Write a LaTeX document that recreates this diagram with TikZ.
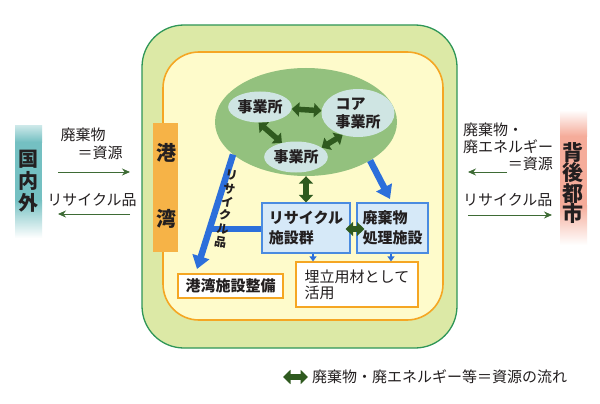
\documentclass[tikz,border=0pt]{standalone}
\usepackage{fontspec}
\newfontfamily\jp{Noto Sans CJK JP}
\usetikzlibrary{shapes.geometric,arrows.meta,calc}
\definecolor{gborder}{HTML}{2E9657}
\definecolor{gfill}{HTML}{DCE9A6}
\definecolor{oborder}{HTML}{F5A623}
\definecolor{yfill}{HTML}{FEFBCB}
\definecolor{egreen}{HTML}{93C17E}
\definecolor{lblue}{HTML}{CFE5E3}
\definecolor{dgreen}{HTML}{2F5A1F}
\definecolor{barrow}{HTML}{2C6FDB}
\definecolor{boxblue}{HTML}{D6E9F8}
\definecolor{boxborder}{HTML}{4A8BE0}
\definecolor{portor}{HTML}{F6B347}
\definecolor{kteal}{HTML}{74C0C2}
\definecolor{salmon}{HTML}{F5AC9A}
\definecolor{thinarrow}{HTML}{3E6B35}
\definecolor{txt}{HTML}{231F20}
\begin{document}
\begin{tikzpicture}[x=1pt,y=-1pt,
 every node/.style={font=\jp\fontsize{15}{19}\selectfont, text=txt, inner sep=0pt},
 hb/.style={font=\jp\bfseries\fontsize{15}{20}\selectfont},
 big/.style={font=\jp\bfseries\fontsize{20}{22}\selectfont},
 sub/.style={ellipse, fill=lblue, hb, inner sep=0pt},
 fbox/.style={draw=boxborder, fill=boxblue, line width=1.2pt, hb, align=left, minimum height=50pt},
 obox/.style={draw=oborder, fill=white, line width=1.2pt, align=left},
 dg/.style={draw=dgreen, line width=5.5pt, {Triangle[width=14pt,length=7.5pt]}-{Triangle[width=14pt,length=7.5pt]}},
 ba/.style={draw=barrow, line width=6.5pt, -{Triangle[width=17pt,length=13pt]}},
 sa/.style={draw=barrow, line width=2.5pt, -{Triangle[width=7pt,length=5pt]}},
 ta/.style={draw=thinarrow, line width=0.9pt, -{Stealth[width=7pt,length=8pt]}}
]
\useasboundingbox (0,0) rectangle (600,404);
\fill[white] (0,0) rectangle (600,404);
% side colour bands
\shade[top color=kteal!35, bottom color=kteal] (15,125) rectangle (42,142);
\fill[kteal] (15,141.5) rectangle (42,200.5);
\shade[top color=kteal, bottom color=white] (15,200) rectangle (42,238);
\shade[top color=white, bottom color=salmon] (560,110) rectangle (587,136);
\fill[salmon] (560,135.5) rectangle (587,205.5);
\shade[top color=salmon, bottom color=white] (560,205) rectangle (587,245);
% frames
\draw[gborder, fill=gfill, line width=1.3pt, rounded corners=42pt] (142,25) rectangle (457,348);
\draw[oborder, fill=yfill, line width=1.6pt, rounded corners=36pt] (163,52) rectangle (443,320);
% harbour bar
\node (port) [fill=portor, minimum width=25pt, minimum height=129pt] at (165.5,187.5) {};
\node[big] (ko) at (166,153) {港};
\node[big] (wan) at (166,219) {湾};
% cluster
\node (cluster) [ellipse, fill=egreen, minimum width=182pt, minimum height=108pt] at (306,122) {};
\node (e1) [sub, minimum width=56pt, minimum height=31pt] at (260,107) {事業所};
\node (core) [sub, minimum width=73pt, minimum height=48pt, align=left, font=\jp\bfseries\fontsize{15}{18}\selectfont] at (358,113) {コア\\事業所};
\node (e3) [sub, minimum width=58pt, minimum height=31pt] at (296,157) {事業所};
\draw[dg] (e1) -- (core);
\draw[dg] (e1.-95) -- (e3.135);
\draw[dg] (e3.20) -- (core.-125);
% facility boxes
\node (recycle) [fbox, minimum width=88pt] at (306,228) {リサイクル\\施設群};
\node (waste) [fbox, minimum width=71pt] at (392.5,228) {廃棄物\\処理施設};
\draw[dg] (cluster.south) -- (recycle.north);
\draw[dg] ($(recycle.east)+(-5,1)$) -- ($(waste.west)+(8,1)$);
\node (landfill) [obox, minimum width=122pt, minimum height=45pt, font=\jp\fontsize{15}{16}\selectfont] at (357,284.5) {埋立用材として\\活用};
\node (harbor) [obox, hb, minimum width=105pt, minimum height=24pt] at (230.5,286) {港湾施設整備};
% blue flows
\coordinate (b1e) at (197,269);
\draw[ba] (cluster.-156) -- (b1e);
\coordinate (b1j) at (211,229);
\draw[barrow, line width=6pt] ($(recycle.west)+(0,1)$) -- (b1j);
\node (rlabel) [rotate=-9.5, align=center, font=\jp\bfseries\fontsize{12}{13.5}\selectfont] at (226,209) {リ\\サ\\イ\\ク\\ル\\品};
\coordinate (b2e) at (390,199);
\draw[ba] (cluster.-31) -- (b2e);
\coordinate (s1) at ($(recycle.south)+(7,0)$);
\draw[sa] (s1) -- (s1 |- landfill.north);
\coordinate (s2) at ($(waste.south)+(-1.5,0)$);
\draw[sa] (s2) -- (s2 |- landfill.north);
% left side
\node (kokunai) [big] [align=center] at (28,181) {国\\内\\外};
\node (lw1) at (83,135) {廃棄物};
\node (lw2) at (100,153) {＝資源};
\coordinate (la1s) at (58,172);
\coordinate (la1e) at (130,172);
\draw[ta] (la1s) -- (la1e);
\node (lr) at (92,200) {リサイクル品};
\coordinate (la2s) at (130,214);
\coordinate (la2e) at (58,214);
\draw[ta] (la2s) -- (la2e);
% right side
\node (rw1) [anchor=west] at (463,130) {廃棄物・};
\node (rw2) [anchor=west] at (463,147) {廃エネルギー};
\node (rw3) [anchor=east] at (553,164) {＝資源};
\coordinate (ra1s) at (507,172);
\coordinate (ra1e) at (468,172);
\draw[ta] (ra1s) -- (ra1e);
\node (rr) [anchor=west] at (463,200) {リサイクル品};
\coordinate (ra2s) at (468,215);
\coordinate (ra2e) at (552,215);
\draw[ta] (ra2s) -- (ra2e);
\node (city) [align=center, font=\jp\bfseries\fontsize{21}{20.5}\selectfont] at (573,183) {背\\後\\都\\市};
% legend
\node (legend) [anchor=west] at (312,377) {廃棄物・廃エネルギー等＝資源の流れ};
\coordinate (legA) at (283,377);
\draw[dg] (legA) -- ($(legend.west)+(-4,0)$);
\end{tikzpicture}
\end{document}
